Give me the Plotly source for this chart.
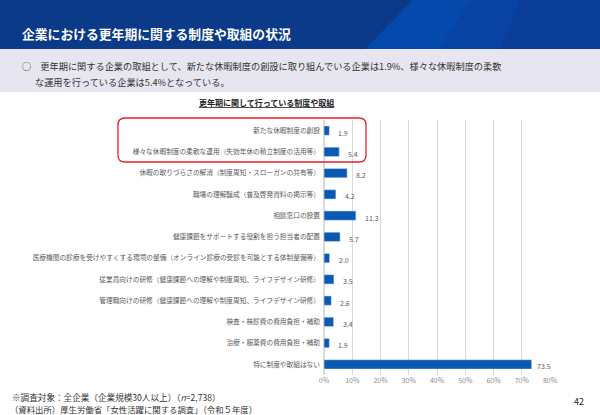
import plotly.graph_objects as go

# 更年期に関して行っている制度や取組（%）
categories = [
    "新たな休暇制度の創設",
    "様々な休暇制度の柔軟な運用（失効年休の積立制度の活用等）",
    "休暇の取りづらさの解消（制度周知・スローガンの共有等）",
    "職場の理解醸成（普及啓発資料の掲示等）",
    "相談窓口の設置",
    "健康課題をサポートする役割を担う担当者の配置",
    "医療機関の診療を受けやすくする環境の整備（オンライン診療の受診を可能とする体制整備等）",
    "従業員向けの研修（健康課題への理解や制度周知、ライフデザイン研修）",
    "管理職向けの研修（健康課題への理解や制度周知、ライフデザイン研修）",
    "検査・検診費の費用負担・補助",
    "治療・服薬費の費用負担・補助",
    "特に制度や取組はない",
]
values = [1.9, 5.4, 8.2, 4.2, 11.3, 5.7, 2.0, 3.5, 2.6, 3.4, 1.9, 73.5]
tick_vals = [0, 10, 20, 30, 40, 50, 60, 70, 80]
tick_text = ["0%", "10%", "20%", "30%", "40%", "50%", "60%", "70%", "80%"]

FONT = "Noto Sans CJK JP"
BAR = "#0a5ab4"
GREY = "#595959"

W, H = 600, 415
L, R, T, B = 324, 50, 120, 40
pw, ph = W - L - R, H - T - B


def px(x, y):
    """pixel position (top-left origin) -> paper coords"""
    return (x - L) / pw, (H - B - y) / ph


fig = go.Figure()
fig.add_trace(go.Bar(
    x=values, y=categories, orientation="h",
    marker=dict(color=BAR),
    width=0.44,
    hoverinfo="x+y",
))

fig.update_xaxes(
    range=[0, 80], tickvals=tick_vals, ticktext=tick_text,
    showgrid=True, gridcolor="#d9d9d9", gridwidth=1,
    zeroline=True, zerolinecolor="#d9d9d9",
    tickfont=dict(size=7, color="#8c8c8c", family=FONT),
    ticks="", fixedrange=True,
)
fig.update_yaxes(
    autorange="reversed", ticks="",
    tickfont=dict(size=6.7, color=GREY, family=FONT),
    ticksuffix="  ", fixedrange=True,
)


def poly(points, **kw):
    pts = [px(x, y) for x, y in points]
    path = "M " + " L ".join(f"{a:.4f} {b:.4f}" for a, b in pts) + " Z"
    return dict(type="path", xref="paper", yref="paper", path=path, **kw)


def rounded(x0, y0, x1, y1, r):
    a0, b0 = px(x0, y0)
    a1, b1 = px(x1, y1)
    rx, ry = r / pw, r / ph
    path = (f"M {a0 + rx:.4f} {b0:.4f} L {a1 - rx:.4f} {b0:.4f} "
            f"Q {a1:.4f} {b0:.4f} {a1:.4f} {b0 - ry:.4f} "
            f"L {a1:.4f} {b1 + ry:.4f} Q {a1:.4f} {b1:.4f} {a1 - rx:.4f} {b1:.4f} "
            f"L {a0 + rx:.4f} {b1:.4f} Q {a0:.4f} {b1:.4f} {a0:.4f} {b1 + ry:.4f} "
            f"L {a0:.4f} {b0 - ry:.4f} Q {a0:.4f} {b0:.4f} {a0 + rx:.4f} {b0:.4f} Z")
    return dict(type="path", xref="paper", yref="paper", path=path,
                line=dict(color="#e8212e", width=1.3))


shapes = [
    # header band: dark navy left, lighter diagonal stripe on the right
    poly([(0, 0), (600, 0), (600, 49), (0, 49)], fillcolor="#0b3a88",
         line_width=0, layer="below"),
    poly([(413, 0), (600, 0), (600, 49), (365, 49)], fillcolor="#0a3d98",
         line_width=0, layer="below"),
    poly([(413, 0), (470, 0), (440, 49), (365, 49)], fillcolor="#0649ac",
         line_width=0, layer="below"),
    poly([(470, 0), (520, 0), (500, 49), (440, 49)], fillcolor="#0843a3",
         line_width=0, layer="below"),
    # grey summary band
    poly([(0, 49), (600, 49), (600, 92), (0, 92)], fillcolor="#e6e5f0",
         line_width=0, layer="below"),
    # red highlight frame
    rounded(118, 118, 366, 162, 7),
]

annotations = [
    dict(text="企業における更年期に関する制度や取組の状況", x=20, y=33,
         font=dict(size=12.8, color="white", family=FONT, weight="bold")),
    dict(text="○　更年期に関する企業の取組として、新たな休暇制度の創設に取り組んでいる企業は1.9%、様々な休暇制度の柔軟",
         x=20, y=66, font=dict(size=9.2, color="#333333", family=FONT)),
    dict(text="な運用を行っている企業は5.4%となっている。",
         x=33, y=82, font=dict(size=9.2, color="#333333", family=FONT)),
    dict(text="<b><u>更年期に関して行っている制度や取組</u></b>", x=266, y=102,
         xanchor="center", font=dict(size=8, color="#222222", family=FONT)),
    dict(text="※調査対象：全企業（企業規模30人以上）（<i>n</i>=2,738）", x=10, y=397,
         font=dict(size=8.6, color="#333333", family=FONT)),
    dict(text="（資料出所）厚生労働省「女性活躍に関する調査」（令和５年度）", x=8, y=409,
         font=dict(size=8.4, color="#333333", family=FONT)),
    dict(text="42", x=572, y=401, font=dict(size=9, color="#222222", family=FONT)),
]
anns = []
for a in annotations:
    a = dict(a)
    ax, ay = px(a.pop("x"), a.pop("y"))
    a.update(xref="paper", yref="paper", x=ax, y=ay,
             xanchor=a.get("xanchor", "left"), yanchor="middle",
             showarrow=False)
    anns.append(a)

# value labels beside each bar
for cat, v in zip(categories, values):
    anns.append(dict(
        x=v, y=cat, xref="x", yref="y", text=f"{v:.1f}",
        xanchor="left", yanchor="middle", showarrow=False,
        xshift=3 if v > 50 else 7, yshift=-2,
        font=dict(size=7, color=GREY, family=FONT),
    ))

fig.update_layout(
    width=W, height=H,
    margin=dict(l=L, r=R, t=T, b=B),
    paper_bgcolor="white", plot_bgcolor="white",
    showlegend=False,
    font=dict(family=FONT),
    shapes=shapes,
    annotations=anns,
    bargap=0.56,
)

fig.write_html("out.html", config={"displayModeBar": False},
               post_script="document.body.style.margin='0';")
